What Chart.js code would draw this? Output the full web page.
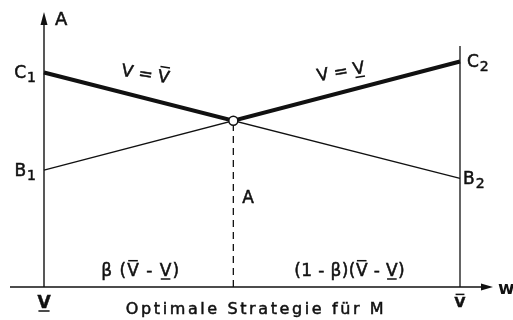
<!DOCTYPE html>
<html>
<head>
<meta charset="utf-8">
<script src="https://cdn.jsdelivr.net/npm/chart.js@4"></script>
<style>
  html, body { margin: 0; padding: 0; background: #fff; }
</style>
</head>
<body>
<canvas id="c" width="513" height="320"></canvas>
<script>
// Horizontal axis: strategy position, 0 = lower value V̲, 1 = upper value V̄
const edgeX = [0, 1];
// Payoff A at the two edges for each straight line
const lineC1B2 = [7.8, 3.95];   // C1 at V̲, B2 at V̄
const lineB1C2 = [4.25, 8.2];   // B1 at V̲, C2 at V̄
// Axis extents
const axisTop = 10;
const rightEdgeTop = 8.76;

// Crossing point of the two lines (optimal strategy)
const dC = lineC1B2[0] - lineB1C2[0];
const dR = lineB1C2[1] - lineC1B2[1];
const beta = dC / (dC + dR);
const yCross = lineC1B2[0] + (lineC1B2[1] - lineC1B2[0]) * beta;

const INK = '#111';
const FONT = '"DejaVu Sans", sans-serif';

// filled text with a light outline so the lettering reads a little heavier
function ink(ctx, t, x, y) {
  ctx.fillText(t, x, y);
  ctx.lineWidth = 0.5;
  ctx.strokeText(t, x, y);
}

// draw a run of text pieces, some V's with bar above or below
function drawRich(ctx, parts, cx, baseline, size, opts = {}) {
  ctx.font = (opts.bold ? 'bold ' : '') + size + 'px ' + FONT;
  const sp = opts.spacing || 0;
  ctx.letterSpacing = sp + 'px';
  const widths = parts.map(p => ctx.measureText(p.t).width);
  const total = widths.reduce((a, b) => a + b, 0);
  let x = opts.align === 'left' ? cx : cx - total / 2;
  ctx.textAlign = 'left';
  ctx.textBaseline = 'alphabetic';
  parts.forEach((p, i) => {
    ink(ctx, p.t, x, baseline);
    const w = widths[i] - sp;
    ctx.lineWidth = 1.5;
    if (p.over) {
      ctx.beginPath();
      ctx.moveTo(x + 1, baseline - size * 0.9);
      ctx.lineTo(x + w - 1, baseline - size * 0.9);
      ctx.stroke();
    }
    if (p.under) {
      ctx.beginPath();
      ctx.moveTo(x + 1, baseline + 3);
      ctx.lineTo(x + w - 1, baseline + 3);
      ctx.stroke();
    }
    x += widths[i];
  });
  ctx.letterSpacing = '0px';
}

// letter with a subscript digit, vertically centred on y
function drawSub(ctx, letter, digit, x, y, alignRight) {
  ctx.font = '17px ' + FONT;
  const wl = ctx.measureText(letter).width;
  ctx.font = '14px ' + FONT;
  const wd = ctx.measureText(digit).width;
  const start = alignRight ? x - wl - wd - 1 : x;
  ctx.textAlign = 'left';
  ctx.textBaseline = 'alphabetic';
  ctx.font = '17px ' + FONT;
  ink(ctx, letter, start, y + 6);
  ctx.font = '14px ' + FONT;
  ink(ctx, digit, start + wl + 1, y + 10);
}

const decorations = {
  id: 'decorations',
  beforeDatasetsDraw(chart) {
    const { ctx, scales: { x, y } } = chart;
    const x0 = x.getPixelForValue(0), x1 = x.getPixelForValue(1);
    const yb = y.getPixelForValue(0), yt = y.getPixelForValue(axisTop);
    ctx.save();
    ctx.strokeStyle = INK;
    ctx.fillStyle = INK;
    ctx.lineWidth = 1.4;
    // vertical A axis with arrowhead
    ctx.beginPath();
    ctx.moveTo(x0, yb);
    ctx.lineTo(x0, yt + 10);
    ctx.stroke();
    ctx.beginPath();
    ctx.moveTo(x0, yt);
    ctx.lineTo(x0 - 3.5, yt + 13);
    ctx.lineTo(x0 + 3.5, yt + 13);
    ctx.closePath();
    ctx.fill();
    // horizontal axis with arrowhead
    const hx0 = x0 - 34, hx1 = x1 + 33;
    ctx.beginPath();
    ctx.moveTo(hx0, yb);
    ctx.lineTo(hx1 - 8, yb);
    ctx.stroke();
    ctx.beginPath();
    ctx.moveTo(hx1, yb);
    ctx.lineTo(hx1 - 12, yb - 3.5);
    ctx.lineTo(hx1 - 12, yb + 3.5);
    ctx.closePath();
    ctx.fill();
    ctx.restore();
  },
  afterDatasetsDraw(chart) {
    const { ctx, scales: { x, y } } = chart;
    const x0 = x.getPixelForValue(0), x1 = x.getPixelForValue(1);
    const xb = x.getPixelForValue(beta);
    const yb = y.getPixelForValue(0), yt = y.getPixelForValue(axisTop);
    const yC = y.getPixelForValue(yCross);
    ctx.save();
    ctx.fillStyle = INK;
    ctx.strokeStyle = INK;

    // axis name
    ctx.font = '18px ' + FONT;
    ctx.textAlign = 'left';
    ctx.textBaseline = 'alphabetic';
    ink(ctx, 'A', x0 + 11, yt + 13);

    // edge labels
    drawSub(ctx, 'C', '1', x0 - 8, y.getPixelForValue(lineC1B2[0]) - 1, true);
    drawSub(ctx, 'B', '1', x0 - 8, y.getPixelForValue(lineB1C2[0]), true);
    drawSub(ctx, 'C', '2', x1 + 7, y.getPixelForValue(lineB1C2[1]) - 1, false);
    drawSub(ctx, 'B', '2', x1 + 3, y.getPixelForValue(lineC1B2[1]), false);

    // label on the dashed drop line
    ctx.font = '17px ' + FONT;
    ctx.textAlign = 'left';
    ink(ctx, 'A', xb + 9, 203);

    // labels along the upper envelope
    const lmx = (x0 + xb) / 2, lmy = (y.getPixelForValue(lineC1B2[0]) + yC) / 2;
    ctx.save();
    ctx.translate(lmx + 7, lmy - 23);
    ctx.rotate(9 * Math.PI / 180);
    drawRich(ctx, [{ t: 'V = ' }, { t: 'V', over: true }], 0, 6, 17);
    ctx.restore();

    const rmx = (xb + x1) / 2, rmy = (yC + y.getPixelForValue(lineB1C2[1])) / 2;
    ctx.save();
    ctx.translate(rmx - 6, rmy - 20);
    ctx.rotate(-10 * Math.PI / 180);
    drawRich(ctx, [{ t: 'V = ' }, { t: 'V', under: true }], 0, 6, 17);
    ctx.restore();

    // interval lengths on either side of the optimum
    drawRich(ctx, [{ t: 'β (' }, { t: 'V', over: true }, { t: ' - ' }, { t: 'V', under: true }, { t: ')' }],
      (x0 + xb) / 2 + 2, yb - 11, 17, { spacing: 1 });
    drawRich(ctx, [{ t: '(1 - β)(' }, { t: 'V', over: true }, { t: ' - ' }, { t: 'V', under: true }, { t: ')' }],
      (xb + x1) / 2 + 3, yb - 11, 17, { spacing: 0.4 });

    // edge values under the horizontal axis
    drawRich(ctx, [{ t: 'V', under: true }], x0, yb + 21, 17, { bold: true });
    drawRich(ctx, [{ t: 'V', over: true }], x1, yb + 20, 14, { bold: true });

    // horizontal axis caption
    drawRich(ctx, [{ t: 'Optimale Strategie für M' }], (x0 + x1) / 2 + 4, yb + 27, 16, { spacing: 2.6 });

    // horizontal axis name beside the arrow
    ctx.font = 'bold 18px ' + FONT;
    ctx.textAlign = 'left';
    ctx.fillText('w', x1 + 38, yb + 7);
    ctx.restore();
  }
};

new Chart(document.getElementById('c'), {
  type: 'scatter',
  data: {
    datasets: [
      {
        // optimum marker
        data: [{ x: beta, y: yCross }],
        showLine: false,
        pointRadius: 4.5,
        pointBackgroundColor: '#fff',
        pointBorderColor: INK,
        pointBorderWidth: 1.5,
        clip: false
      },
      {
        // upper envelope V = V̄ / V = V̲
        data: [{ x: edgeX[0], y: lineC1B2[0] }, { x: beta, y: yCross }, { x: edgeX[1], y: lineB1C2[1] }],
        showLine: true, borderColor: INK, borderWidth: 4, pointRadius: 0, clip: false
      },
      {
        data: [{ x: edgeX[0], y: lineC1B2[0] }, { x: edgeX[1], y: lineC1B2[1] }],
        showLine: true, borderColor: INK, borderWidth: 1.3, pointRadius: 0, clip: false
      },
      {
        data: [{ x: edgeX[0], y: lineB1C2[0] }, { x: edgeX[1], y: lineB1C2[1] }],
        showLine: true, borderColor: INK, borderWidth: 1.3, pointRadius: 0, clip: false
      },
      {
        // drop line from the optimum to the axis
        data: [{ x: beta, y: 0 }, { x: beta, y: yCross }],
        showLine: true, borderColor: INK, borderWidth: 1.3, borderDash: [7, 5], pointRadius: 0, clip: false
      },
      {
        // vertical boundary at V̄
        data: [{ x: edgeX[1], y: 0 }, { x: edgeX[1], y: rightEdgeTop }],
        showLine: true, borderColor: INK, borderWidth: 1.3, pointRadius: 0, clip: false
      }
    ]
  },
  options: {
    responsive: false,
    animation: false,
    layout: { padding: { left: 44, right: 53, top: 12, bottom: 33 } },
    plugins: { legend: { display: false }, tooltip: { enabled: false } },
    scales: {
      x: { type: 'linear', min: 0, max: 1, display: false },
      y: { type: 'linear', min: 0, max: axisTop, display: false }
    }
  },
  plugins: [decorations]
});
</script>
</body>
</html>
